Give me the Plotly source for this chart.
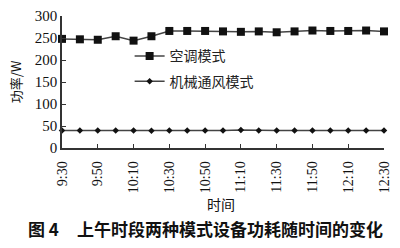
import plotly.graph_objects as go

times = ["9:30", "9:40", "9:50", "10:00", "10:10", "10:20", "10:30", "10:40", "10:50",
         "11:00", "11:10", "11:20", "11:30", "11:40", "11:50", "12:00", "12:10", "12:20", "12:30"]
ac_power = [248, 247, 246, 254, 244, 254, 266, 266, 266, 265, 264, 265, 263, 265, 267, 266, 266, 267, 265]
mech_power = [40, 40, 40, 40, 40, 39, 40, 40, 40, 40, 41, 40, 40, 40, 40, 40, 40, 40, 40]
tick_labels = times[::2]
y_ticks = [0, 50, 100, 150, 200, 250, 300]

idx = list(range(len(times)))
serif = "Liberation Serif, Noto Sans CJK SC"
cjk = "Noto Sans CJK SC"

W, H = 400, 248
ML, MR, MT, MB = 62, 15, 8, 100
PW, PH = W - ML - MR, H - MT - MB


def px2paper(px, py):
    return (px - ML) / PW, (H - MB - py) / PH


def label(text, px, py, size, angle=0):
    x, y = px2paper(px, py)
    return dict(text=text, x=x, y=y, xref="paper", yref="paper", showarrow=False,
                xanchor="center", yanchor="middle", textangle=angle,
                font=dict(family=cjk, size=size, color="#111"))


fig = go.Figure()
fig.add_trace(go.Scatter(x=idx, y=ac_power, mode="lines+markers", name="空调模式",
                         legendgroup="a",
                         line=dict(color="#444", width=1.5),
                         marker=dict(symbol="square", size=8, color="#111"),
                         cliponaxis=False))
fig.add_trace(go.Scatter(x=idx, y=mech_power, mode="lines+markers", name="机械通风模式",
                         legendgroup="b",
                         line=dict(color="#444", width=1.5),
                         marker=dict(symbol="diamond", size=5, color="#111"),
                         cliponaxis=False))

fig.update_layout(
    width=W, height=H,
    margin=dict(l=ML, r=MR, t=MT, b=MB),
    paper_bgcolor="white", plot_bgcolor="white",
    font=dict(family=serif, color="#111"),
    showlegend=True,
    legend=dict(x=0.21, y=0.815, xanchor="left", yanchor="top",
                font=dict(family=cjk, size=14, color="#222"),
                bgcolor="rgba(0,0,0,0)", tracegroupgap=4, itemwidth=30),
    xaxis=dict(range=[0, len(times) - 1], tickmode="array",
               tickvals=idx[::2], ticktext=tick_labels, tickangle=-90,
               ticks="inside", ticklen=4, tickcolor="#333",
               showline=True, linecolor="#333", linewidth=1.5,
               showgrid=False, zeroline=False, ticklabelstandoff=6,
               tickfont=dict(family=serif, size=14, color="#111")),
    yaxis=dict(range=[0, 300], tickvals=y_ticks,
               ticks="inside", ticklen=4, tickcolor="#333",
               showline=True, linecolor="#333", linewidth=1.5,
               showgrid=False, zeroline=False,
               tickfont=dict(family=serif, size=15, color="#111")),
    annotations=[
        label("功率/W", 15, 78, 13, -90),
        label("时间", 221, 207, 14),
        label("<b>图 4</b>", 43, 233, 17),
        label("<b>上午时段两种模式设备功耗随时间的变化</b>", 231, 233, 17),
    ],
)

fig.write_html("out.html")
